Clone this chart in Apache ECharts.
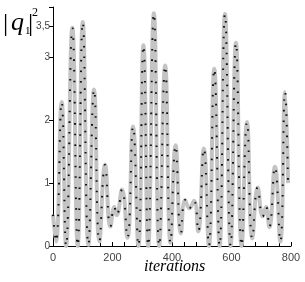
<!DOCTYPE html>
<html><head><meta charset="utf-8">
<script src="https://cdn.jsdelivr.net/npm/echarts@6/dist/echarts.min.js"></script>
<style>html,body{margin:0;padding:0;background:#fff}#c{width:305px;height:282px}</style>
</head><body><div id="c"></div>
<script>
const iterations = [0,10,29,44,65,83,100,119,138,156,175,193,206,214,232,250,269,287,304,320,339,357,377,395,412,430,444,458,474,488,507,524,542,560,578,597,615,634,652,670,688,705,716,727,746,764,780,790];
const values = [0.5,0.07,2.29,0.0,3.47,0.0,3.56,0.02,2.49,0.07,1.29,0.31,0.62,0.49,0.9,0.13,1.9,0.0,3.19,0.0,3.7,0.0,2.87,0.05,1.6,0.2,0.73,0.6,0.72,0.23,1.55,0.0,2.82,0.0,3.69,0.0,3.23,0.0,1.97,0.12,0.93,0.47,0.62,0.3,1.26,0.07,2.45,1.0];
const xTickLabels = [0,200,400,600,800];
const yTickValues = [0,1,2,3,3.5];

const data = iterations.map((x,i)=>[x, values[i]]);
const chart = echarts.init(document.getElementById('c'));
chart.setOption({
  animation:false,
  grid:{left:53,right:14,top:7,bottom:36},
  xAxis:{type:'value',min:0,max:800,interval:40,
    axisLine:{lineStyle:{color:'#000',width:1}},
    axisTick:{inside:true,length:4,lineStyle:{color:'#000'}},
    splitLine:{show:false},
    axisLabel:{color:'#444',fontSize:11,fontFamily:'Liberation Sans',margin:6,
      formatter:v=>xTickLabels.includes(v)?String(v):''}},
  yAxis:{type:'value',min:0,max:3.8,
    axisLine:{show:true,lineStyle:{color:'#000',width:1}},
    axisTick:{show:true,length:4,customValues:[0,1,2,3,3.5,3.8],lineStyle:{color:'#000'}},
    splitLine:{show:false},
    axisLabel:{color:'#444',fontSize:10,fontFamily:'Liberation Sans',margin:3,
      customValues:yTickValues,formatter:v=>String(v).replace('.',',')}},
  graphic:[
    {type:'text',left:3,top:11,style:{text:'|',font:'26px Liberation Serif',fill:'#000'}},
    {type:'text',left:11,top:10,style:{text:'q',font:'italic 26px Liberation Serif',fill:'#000'}},
    {type:'text',left:25,top:26,style:{text:'1',font:'11px Liberation Serif',fill:'#000'}},
    {type:'text',left:28,top:11,style:{text:'|',font:'26px Liberation Serif',fill:'#000'}},
    {type:'text',left:32,top:7,style:{text:'2',font:'12px Liberation Serif',fill:'#000'}},
    {type:'text',left:144,top:259,style:{text:'iterations',font:'italic 16px Liberation Serif',fill:'#000'}}
  ],
  series:[
    {type:'line',data:data,smooth:0.5,symbol:'none',lineStyle:{color:'#c4c4c4',width:4},z:2},
    {type:'line',data:data,smooth:0.5,symbol:'none',lineStyle:{color:'#111',width:2,type:[1.6,9]},z:3}
  ]
});
</script></body></html>
